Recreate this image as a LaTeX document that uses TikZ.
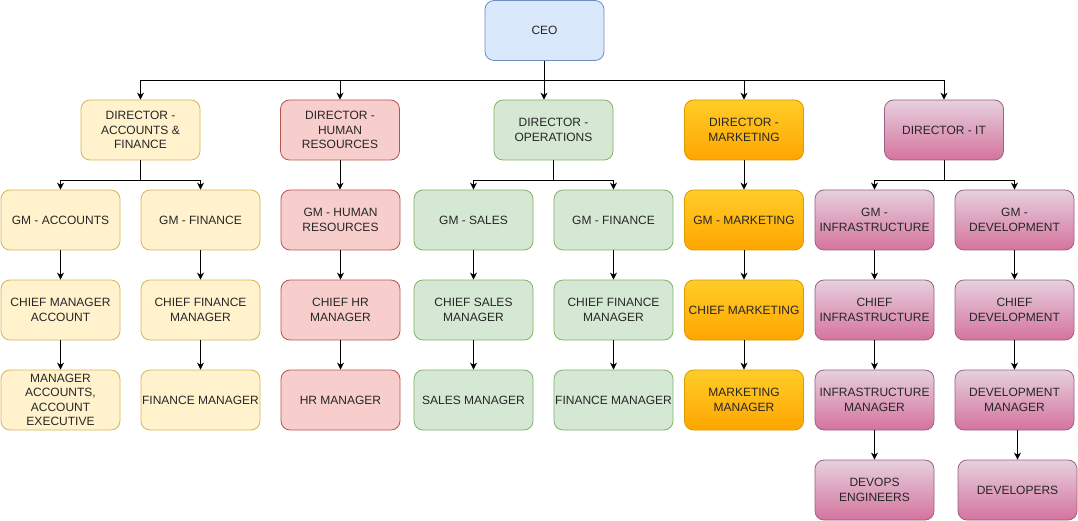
\documentclass[tikz,border=0pt]{standalone}
\usepackage{fontspec}
\setmainfont{Liberation Sans}
\usetikzlibrary{arrows.meta}
\definecolor{yfill}{HTML}{FFF2CC}\definecolor{ydraw}{HTML}{D6B656}
\definecolor{rfill}{HTML}{F8CECC}\definecolor{rdraw}{HTML}{B85450}
\definecolor{gfill}{HTML}{D5E8D4}\definecolor{gdraw}{HTML}{82B366}
\definecolor{bfill}{HTML}{DAE8FC}\definecolor{bdraw}{HTML}{6C8EBF}
\definecolor{otop}{HTML}{FFCD28}\definecolor{obot}{HTML}{FFA500}\definecolor{odraw}{HTML}{D79B00}
\definecolor{ptop}{HTML}{E6D0DE}\definecolor{pbot}{HTML}{D5739D}\definecolor{pdraw}{HTML}{996185}
\tikzset{
  box/.style={rectangle, rounded corners=9pt, minimum width=119pt, minimum height=60pt,
    inner sep=1pt, align=center, line width=0.8pt, font=\fontsize{12}{14.4}\selectfont, text=black!85},
  ybox/.style={box, draw=ydraw, fill=yfill},
  rbox/.style={box, draw=rdraw, fill=rfill},
  gbox/.style={box, draw=gdraw, fill=gfill},
  bbox/.style={box, draw=bdraw, fill=bfill},
  obox/.style={box, draw=odraw, top color=otop, bottom color=obot},
  pbox/.style={box, draw=pdraw, top color=ptop, bottom color=pbot},
  arr/.style={line width=0.9pt, -{Stealth[length=7pt,width=7pt]}},
}
\begin{document}
\begin{tikzpicture}[x=1pt,y=-1pt]
\useasboundingbox (0,0) rectangle (1078,521);
% CEO
\node[bbox] (ceo) at (544.5,30.5) {CEO};
% directors
\node[ybox] (dAF)  at (140.5,130) {DIRECTOR -\\ACCOUNTS \&\\FINANCE};
\node[rbox] (dHR)  at (340,130) {DIRECTOR -\\HUMAN\\RESOURCES};
\node[gbox] (dOps) at (553.5,130) {DIRECTOR -\\OPERATIONS};
\node[obox] (dMkt) at (744,130) {DIRECTOR -\\MARKETING};
\node[pbox] (dIT)  at (944,130) {DIRECTOR - IT};
% row 2
\node[ybox] (gmAcc)   at (60.5,220) {GM - ACCOUNTS};
\node[ybox] (gmFinA)  at (200.5,220) {GM - FINANCE};
\node[rbox] (gmHR)    at (340.5,220) {GM - HUMAN\\RESOURCES};
\node[gbox] (gmSales) at (473.5,220) {GM - SALES};
\node[gbox] (gmFinO)  at (613.5,220) {GM - FINANCE};
\node[obox] (gmMkt)   at (744,220) {GM - MARKETING};
\node[pbox] (gmInfra) at (874.5,220) {GM -\\INFRASTRUCTURE};
\node[pbox] (gmDev)   at (1014.5,220) {GM -\\DEVELOPMENT};
% row 3
\node[ybox] (cAcc)   at (60.5,310) {CHIEF MANAGER\\ACCOUNT};
\node[ybox] (cFinA)  at (200.5,310) {CHIEF FINANCE\\MANAGER};
\node[rbox] (cHR)    at (340.5,310) {CHIEF HR\\MANAGER};
\node[gbox] (cSales) at (473.5,310) {CHIEF SALES\\MANAGER};
\node[gbox] (cFinO)  at (613.5,310) {CHIEF FINANCE\\MANAGER};
\node[obox] (cMkt)   at (744,310) {CHIEF MARKETING};
\node[pbox] (cInfra) at (874.5,310) {CHIEF\\INFRASTRUCTURE};
\node[pbox] (cDev)   at (1014.5,310) {CHIEF\\DEVELOPMENT};
% row 4
\node[ybox] (mAcc)   at (60.5,400) {MANAGER\\ACCOUNTS,\\ACCOUNT\\EXECUTIVE};
\node[ybox] (mFinA)  at (200.5,400) {FINANCE MANAGER};
\node[rbox] (mHR)    at (340.5,400) {HR MANAGER};
\node[gbox] (mSales) at (473.5,400) {SALES MANAGER};
\node[gbox] (mFinO)  at (613.5,400) {FINANCE MANAGER};
\node[obox] (mMkt)   at (744,400) {MARKETING\\MANAGER};
\node[pbox] (mInfra) at (874.5,400) {INFRASTRUCTURE\\MANAGER};
\node[pbox] (mDev)   at (1014.5,400) {DEVELOPMENT\\MANAGER};
% row 5
\node[pbox] (devops) at (874.5,490) {DEVOPS\\ENGINEERS};
\node[pbox] (devs)   at (1017.5,490) {DEVELOPERS};
% CEO bus
\coordinate (bus) at (544,80);
\draw[line width=0.9pt] (ceo.south -| bus) -- (bus);
\draw[arr] (bus) -| (dAF.north);
\draw[arr] (bus) -| (dHR.north);
\draw[arr] (bus) -- (bus |- dOps.north);
\draw[arr] (bus) -| (dMkt.north);
\draw[arr] (bus) -| (dIT.north);
% directors to GMs
\draw[arr] (dAF.south) -- ++(0,20) -| (gmAcc.north);
\draw[arr] (dAF.south) -- ++(0,20) -| (gmFinA.north);
\draw[arr] (dHR.south) -- (dHR.south |- gmHR.north);
\draw[arr] (dOps.south) -- ++(0,20) -| (gmSales.north);
\draw[arr] (dOps.south) -- ++(0,20) -| (gmFinO.north);
\draw[arr] (dMkt.south) -- (gmMkt.north);
\draw[arr] (dIT.south) -- ++(0,20) -| (gmInfra.north);
\draw[arr] (dIT.south) -- ++(0,20) -| (gmDev.north);
% chains
\foreach \a/\b in {gmAcc/cAcc, cAcc/mAcc, gmFinA/cFinA, cFinA/mFinA, gmHR/cHR, cHR/mHR,
  gmSales/cSales, cSales/mSales, gmFinO/cFinO, cFinO/mFinO, gmMkt/cMkt, cMkt/mMkt,
  gmInfra/cInfra, cInfra/mInfra, mInfra/devops, gmDev/cDev, cDev/mDev}
  \draw[arr] (\a.south) -- (\b.north);
\draw[arr] (devs.north |- mDev.south) -- (devs.north);
\end{tikzpicture}
\end{document}
